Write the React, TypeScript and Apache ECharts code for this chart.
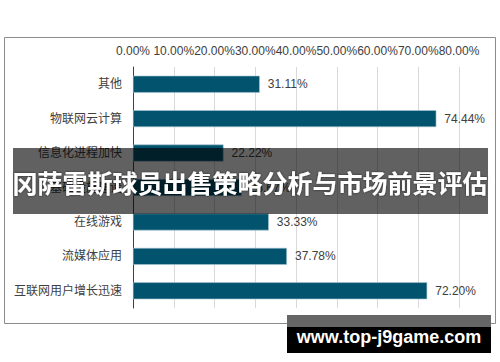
import React, { useEffect, useRef } from "react";
import * as echarts from "echarts";

const categories = ["其他", "物联网云计算", "信息化进程加快", "基础设施建设", "在线游戏", "流媒体应用", "互联网用户增长迅速"];
const values = [31.11, 74.44, 22.22, 26.67, 33.33, 37.78, 72.2];
const axisMin = 0;
const axisMax = 80;
const axisStep = 10;
const bannerTitle = "冈萨雷斯球员出售策略分析与市场前景评估";
const watermark = "www.top-j9game.com";

export default function App() {
  const ref = useRef<HTMLDivElement>(null);
  useEffect(() => {
    document.body.style.margin = "0";
    const chart = echarts.init(ref.current!, undefined, { renderer: "svg" });
    const font = '"Liberation Sans", Arial, "Noto Sans CJK SC", sans-serif';
    chart.setOption({
      animation: false,
      backgroundColor: "#ffffff",
      grid: { left: 133, top: 67, width: 326, height: 241, containLabel: false },
      xAxis: {
        type: "value",
        position: "top",
        min: axisMin,
        max: axisMax,
        interval: axisStep,
        axisLine: { show: false },
        axisTick: { show: false },
        axisLabel: {
          color: "#404040",
          fontSize: 12,
          fontFamily: font,
          margin: 10,
          formatter: (v: number) => v.toFixed(2) + "%",
        },
        splitLine: { show: true, lineStyle: { color: "#d9d9d9", width: 1 } },
      },
      yAxis: {
        type: "category",
        inverse: true,
        data: categories,
        axisLine: { show: true, lineStyle: { color: "#404040", width: 1 } },
        axisTick: { show: false },
        axisLabel: { color: "#404040", fontSize: 12, fontFamily: font, margin: 11 },
        splitLine: { show: false },
      },
      series: [
        {
          type: "bar",
          data: values,
          barWidth: 17,
          itemStyle: { color: "#02536d", borderColor: "#a9c6d3", borderWidth: 0.6 },
          label: {
            show: true,
            position: "right",
            distance: 8,
            color: "#404040",
            fontSize: 12,
            fontFamily: font,
            formatter: (p: any) => Number(p.value).toFixed(2) + "%",
          },
        },
      ],
      graphic: [
        {
          type: "rect",
          z: 100,
          shape: { x: 4.5, y: 37.5, width: 491, height: 286 },
          style: { fill: "none", stroke: "#8c8c8c", lineWidth: 1 },
        },
        {
          type: "rect",
          z: 110,
          shape: { x: 13, y: 148, width: 475, height: 66 },
          style: { fill: "rgba(0,0,0,0.62)" },
        },
        {
          type: "text",
          z: 111,
          x: 250,
          y: 182,
          style: {
            text: bannerTitle,
            fill: "#ffffff",
            font: 'bold 25px "Noto Sans CJK SC", sans-serif',
            align: "center",
            verticalAlign: "middle",
            textShadowColor: "rgba(0,0,0,0.6)",
            textShadowBlur: 2,
          },
        },
        {
          type: "rect",
          z: 110,
          shape: { x: 287, y: 315, width: 204, height: 38 },
          style: { fill: "#000000" },
        },
        {
          type: "rect",
          z: 111,
          shape: { x: 287, y: 315, width: 204, height: 12 },
          style: { fill: "#666666" },
        },
        {
          type: "text",
          z: 112,
          x: 389,
          y: 337,
          style: {
            text: watermark,
            fill: "#ffffff",
            font: 'bold 18px "Liberation Sans", Arial, sans-serif',
            align: "center",
            verticalAlign: "middle",
          },
        },
      ],
    });
    return () => chart.dispose();
  }, []);
  return <div ref={ref} style={{ width: 500, height: 362 }} />;
}
